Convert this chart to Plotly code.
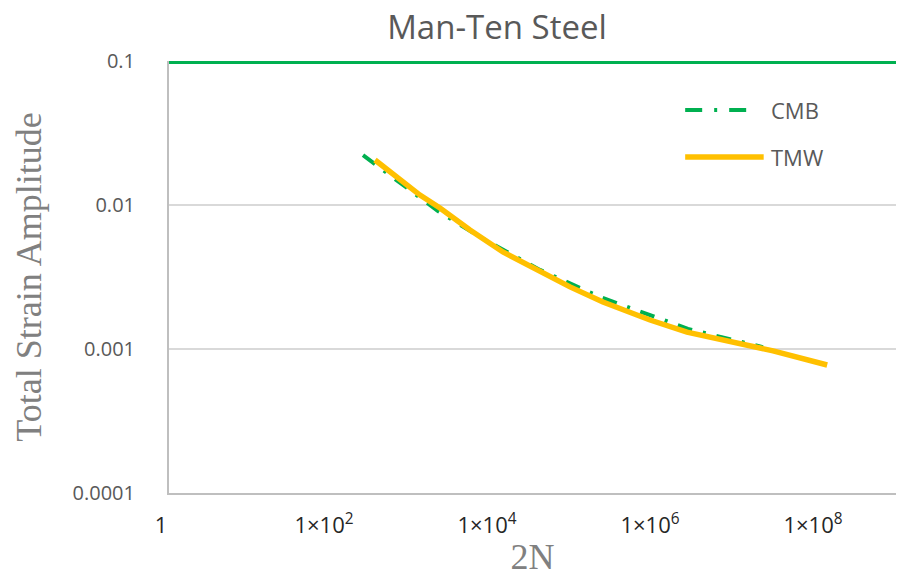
import plotly.graph_objects as go

# Fatigue life data: reversals to failure (2N) vs total strain amplitude
cmb_2n = [240, 683, 2000, 6500, 35600, 194000, 692000, 2330000, 8320000, 19400000]
cmb_strain = [0.0222, 0.01422, 0.00908, 0.0060, 0.00354, 0.0023, 0.00178, 0.00138, 0.001155, 0.00103]

tmw_2n = [337, 1200, 2110, 4930, 12500, 32700, 83200, 211000, 798000, 2270000, 11000000, 25800000, 119000000]
tmw_strain = [0.02054, 0.01172, 0.00953, 0.00670, 0.00472, 0.00354, 0.00270, 0.00212, 0.00159, 0.00131, 0.00107, 0.00097, 0.000774]

x_tick_vals = [1, 1e2, 1e4, 1e6, 1e8]
x_tick_text = ["1", "1×10<sup>2</sup>", "1×10<sup>4</sup>", "1×10<sup>6</sup>", "1×10<sup>8</sup>"]
y_tick_vals = [0.1, 0.01, 0.001, 0.0001]
y_tick_text = ["0.1", "0.01", "0.001", "0.0001"]
upper_strain_line = 0.1

GREEN = "#00B050"
GOLD = "#FFC000"
GRAY_TXT = "#595959"
DASHDOT = "15px,11px,3px,11px"

fig = go.Figure()
fig.add_trace(go.Scatter(x=cmb_2n, y=cmb_strain, mode="lines", name="CMB",
                         line=dict(color=GREEN, width=4, dash=DASHDOT), showlegend=False))
fig.add_trace(go.Scatter(x=tmw_2n, y=tmw_strain, mode="lines", name="TMW",
                         line=dict(color=GOLD, width=5.5), showlegend=False))

# solid green reference line at the top of the strain range
fig.add_shape(type="line", xref="paper", x0=0, x1=1, yref="y", y0=upper_strain_line, y1=upper_strain_line,
              line=dict(color=GREEN, width=6), layer="above")

# legend drawn by hand so the sample lines have Excel-like lengths
legend_items = [("CMB", GREEN, 4, "17px,12px,3px,12px", 0.8866, 0.0, 0.087),
                ("TMW", GOLD, 5.5, "solid", 0.7778, 0.0, 0.108)]
for name, color, w, dash, ypos, x0, x1 in legend_items:
    fig.add_shape(type="line", xref="paper", yref="paper", x0=0.710 + x0, x1=0.710 + x1, y0=ypos, y1=ypos,
                  line=dict(color=color, width=w, dash=dash))
    fig.add_annotation(xref="paper", yref="paper", x=0.825, y=ypos, text=name, showarrow=False,
                       xanchor="left", yanchor="middle",
                       font=dict(family="Open Sans", size=22, color=GRAY_TXT))

fig.update_layout(
    width=897, height=577,
    margin=dict(l=169, r=1, t=61, b=84),
    paper_bgcolor="white", plot_bgcolor="white",
    title=dict(text="Man-Ten Steel", x=497 / 897, xref="container", xanchor="center",
               y=1 - 27 / 577, yref="container", yanchor="middle",
               font=dict(family="Open Sans", size=33, color=GRAY_TXT)),
    xaxis=dict(type="log", range=[0, 8.92], tickvals=x_tick_vals, ticktext=x_tick_text,
               showgrid=False, zeroline=False, showline=True, linecolor="#BFBFBF", linewidth=2,
               ticks="", ticklabelstandoff=12, ticklabelshift=-8,
               tickfont=dict(family="Open Sans", size=22, color="#262626"),
               title=dict(text="2N", standoff=2,
                          font=dict(family="Liberation Serif", size=36, color="#808080"))),
    yaxis=dict(type="log", range=[-4, -1], tickvals=y_tick_vals, ticktext=y_tick_text,
               showgrid=True, gridcolor="#D9D9D9", gridwidth=2, zeroline=False,
               showline=True, linecolor="#BFBFBF", linewidth=2,
               ticks="", ticklabelstandoff=28,
               tickfont=dict(family="Open Sans", size=20, color=GRAY_TXT),
               title=dict(text="Total Strain Amplitude", standoff=20,
                          font=dict(family="Liberation Serif", size=36, color="#808080"))),
)

fig.write_html("out.html")
